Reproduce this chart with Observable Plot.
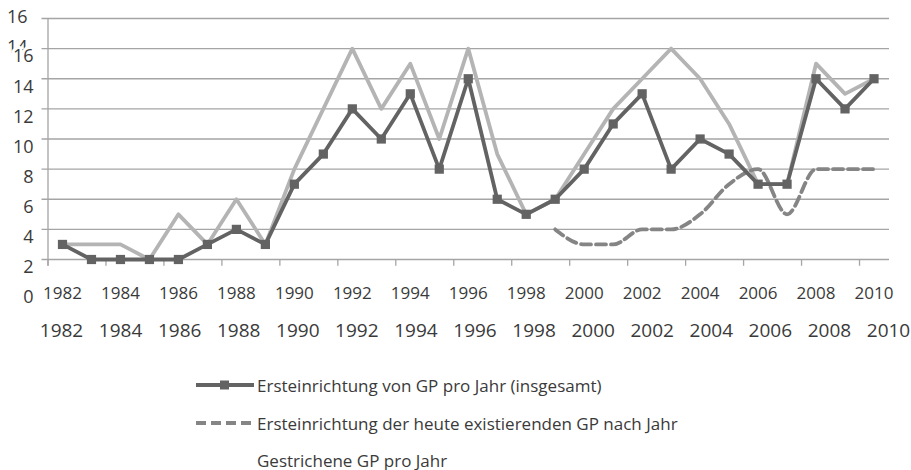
<!DOCTYPE html>
<html>
<head>
<meta charset="utf-8">
<script src="https://cdn.jsdelivr.net/npm/d3@7"></script>
<script src="https://cdn.jsdelivr.net/npm/@observablehq/plot@0.6"></script>
<style>
  html, body { margin: 0; padding: 0; background: #fff; }
  #wrap { position: relative; width: 911px; height: 470px; font-family: "Open Sans", sans-serif; }
  #main { position: absolute; left: 0; top: 0; }
  #row2 { position: absolute; left: 0; top: 310px; }
  .leg { position: absolute; left: 196px; height: 24px; display: flex; align-items: center; font-size: 17px; color: #3a3a3a; white-space: nowrap; }
  .leg svg { display: block; margin-right: 3px; }
</style>
</head>
<body>
<div id="wrap">
  <div id="main"></div>
  <div id="row2"></div>
  <div class="leg" style="top:373px">
    <svg width="58" height="12"><line x1="0" y1="6" x2="58" y2="6" stroke="#636363" stroke-width="3.8"/><rect x="24" y="1.5" width="9" height="9" fill="#636363"/></svg>
    <span>Ersteinrichtung von GP pro Jahr (insgesamt)</span>
  </div>
  <div class="leg" style="top:411px">
    <svg width="58" height="12"><line x1="0" y1="6" x2="58" y2="6" stroke="#858585" stroke-width="3.8" stroke-dasharray="10,5"/></svg>
    <span>Ersteinrichtung der heute existierenden GP nach Jahr</span>
  </div>
  <div class="leg" style="top:448px">
    <svg width="58" height="12"></svg>
    <span>Gestrichene GP pro Jahr</span>
  </div>
</div>
<script>
// ---- data ----
const years = [1982,1983,1984,1985,1986,1987,1988,1989,1990,1991,1992,1993,1994,1995,1996,1997,1998,1999,2000,2001,2002,2003,2004,2005,2006,2007,2008,2009,2010];
const total    = [3,2,2,2,2,3,4,3,7,9,12,10,13,8,14,6,5,6,8,11,13,8,10,9,7,7,14,12,14];
const existing = [null,null,null,null,null,null,null,null,null,null,null,null,null,null,null,null,null,4,3,3,4,4,5,7,8,5,8,8,8];
const struck   = [3,3,3,2,5,3,6,3,8,12,16,12,15,10,16,9,5,6,9,12,14,16,14,11,7,7,15,13,14];
const xTickLabels = [1982,1984,1986,1988,1990,1992,1994,1996,1998,2000,2002,2004,2006,2008,2010];
const gridValues = [2,4,6,8,10,12,14,16,18];
const yLabels = [0,2,4,6,8,10,12,14,16];
const yLabelsTop = [{v: 18, t: "16"}, {v: 16, t: "14"}];

const data = years.map((y, i) => ({year: y, total: total[i], existing: existing[i], struck: struck[i]}));

const W = 911, H = 310, ML = 47.5, MR = 23;
const step = (W - ML - MR) / years.length;
const dark = "#636363", light = "#b4b4b4", dash = "#858585", grid = "#a5a5a5", txt = "#3a3a3a";
const font = "Open Sans";

const main = Plot.plot({
  width: W, height: H,
  marginLeft: ML, marginRight: MR, marginTop: 18, marginBottom: 51,
  x: {type: "point", domain: years, range: [ML + step / 2, W - MR - step / 2], padding: 0, round: false, axis: null},
  y: {domain: [2, 18], axis: null},
  style: {fontFamily: font, background: "white", overflow: "visible"},
  marks: [
    Plot.ruleY(gridValues, {y: d => d, stroke: grid, strokeWidth: 1.3, insetLeft: -6, insetRight: -1}),
    Plot.ruleX([years[0]], {x: d => d, y1: 1.55, y2: 18, dx: -step / 2, stroke: grid, strokeWidth: 1.3}),
    Plot.ruleX(xTickLabels, {x: d => d, y1: 1.55, y2: 2, dx: -step / 2, stroke: grid, strokeWidth: 1.3}),
    Plot.line(data, {x: "year", y: "struck", stroke: light, strokeWidth: 3.8}),
    Plot.line(data.filter(d => d.existing != null), {x: "year", y: "existing", stroke: dash, strokeWidth: 3.8, strokeDasharray: "10,5", curve: "monotone-x"}),
    Plot.line(data, {x: "year", y: "total", stroke: dark, strokeWidth: 3.8}),
    Plot.dot(data, {x: "year", y: "total", symbol: "square", r: 5.2, fill: dark, stroke: "none"}),
    Plot.text(xTickLabels, {x: d => d, y: 2, dy: 34, text: d => String(d), fontSize: 17, fill: txt}),
    Plot.text(yLabelsTop, {y: "v", text: "t", frameAnchor: "left", textAnchor: "end", dx: -20.5, dy: -1.5, fontSize: 18, fill: txt}),
    Plot.text(yLabels, {y: d => d, text: d => String(d), frameAnchor: "left", textAnchor: "end", dx: -14.5, dy: 8, fontSize: 18, fill: txt, stroke: "white", strokeWidth: 6, paintOrder: "stroke"})
  ]
});
document.getElementById("main").appendChild(main);

const row2 = Plot.plot({
  width: W, height: 40,
  marginLeft: 40, marginRight: 10, marginTop: 0, marginBottom: 0,
  x: {type: "point", domain: years, range: [61, 888], padding: 0, round: false, axis: null},
  style: {fontFamily: font, background: "white", overflow: "visible"},
  marks: [
    Plot.text(xTickLabels, {x: d => d, frameAnchor: "middle", text: d => String(d), fontSize: 19, fill: txt})
  ]
});
document.getElementById("row2").appendChild(row2);
</script>
</body>
</html>
